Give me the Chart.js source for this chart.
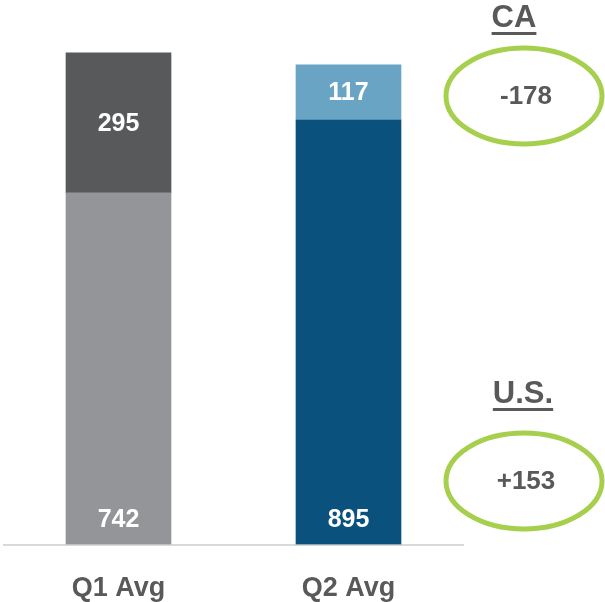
<!DOCTYPE html>
<html>
<head>
<meta charset="utf-8">
<script src="https://cdn.jsdelivr.net/npm/chart.js@4.4.1/dist/chart.umd.min.js"></script>
<style>
  html, body { margin: 0; padding: 0; background: #fff; }
  #wrap { width: 605px; height: 602px; position: relative; }
</style>
</head>
<body>
<div id="wrap"><canvas id="chartRegiones"></canvas></div>
<script>
// datos del grafico
const categorias = ['Q1 Avg', 'Q2 Avg'];
const valoresUS = [742, 895];   // segmento inferior
const valoresCA = [295, 117];   // segmento superior
const regiones = ['U.S.', 'CA'];

const coloresUS = ['#939598', '#0a527d'];
const coloresCA = ['#58595b', '#6aa4c5'];
const FUENTE = '"Liberation Sans", Arial, sans-serif';

function conSigno(n) {
    return (n > 0 ? '+' : '') + n;
}

// etiquetas de valor dentro de las barras
const etiquetasBarras = {
    id: 'etiquetasBarras',
    afterDatasetsDraw(chart) {
        const ctx = chart.ctx;
        ctx.save();
        ctx.fillStyle = '#ffffff';
        ctx.font = 'bold 25px ' + FUENTE;
        ctx.textAlign = 'center';
        ctx.textBaseline = 'middle';
        chart.data.datasets.forEach((ds, i) => {
            const meta = chart.getDatasetMeta(i);
            meta.data.forEach((bar, j) => {
                const valor = ds.data[j];
                let y;
                if (i === 0) {
                    y = bar.base - 24;
                } else {
                    y = (bar.y + bar.base) / 2 + 1;
                }
                ctx.fillText(valor, bar.x, y);
            });
        });
        ctx.restore();
    }
};

// anotaciones de variacion a la derecha
const anotaciones = {
    id: 'anotaciones',
    afterDraw(chart) {
        const ctx = chart.ctx;
        const cambioCA = valoresCA[1] - valoresCA[0];
        const cambioUS = valoresUS[1] - valoresUS[0];
        const items = [
            { titulo: regiones[1], valor: conSigno(cambioCA), xTitulo: 514, yTitulo: 18, yElipse: 96 },
            { titulo: regiones[0], valor: conSigno(cambioUS), xTitulo: 523, yTitulo: 394, yElipse: 481 }
        ];
        const cx = 524;
        ctx.save();
        items.forEach(it => {
            ctx.fillStyle = '#595959';
            ctx.font = 'bold 31px ' + FUENTE;
            ctx.textAlign = 'center';
            ctx.textBaseline = 'middle';
            ctx.fillText(it.titulo, it.xTitulo, it.yTitulo);
            const ancho = ctx.measureText(it.titulo).width;
            ctx.fillRect(it.xTitulo - ancho / 2, it.yTitulo + 14, ancho, 3);

            ctx.beginPath();
            ctx.ellipse(cx, it.yElipse, 78, 48, 0, 0, Math.PI * 2);
            ctx.strokeStyle = '#a5cf4c';
            ctx.lineWidth = 5;
            ctx.stroke();

            ctx.font = 'bold 26px ' + FUENTE;
            ctx.fillText(it.valor, cx + 2, it.yElipse + 1);
        });
        ctx.restore();
    }
};

const chartRegiones = new Chart(document.getElementById('chartRegiones'), {
    type: 'bar',
    data: {
        labels: categorias,
        datasets: [
            {
                label: regiones[0],
                data: valoresUS,
                backgroundColor: coloresUS,
                borderWidth: 0
            },
            {
                label: regiones[1],
                data: valoresCA,
                backgroundColor: coloresCA,
                borderWidth: 0
            }
        ]
    },
    options: {
        responsive: true,
        maintainAspectRatio: false,
        animation: false,
        layout: {
            padding: { top: 23, left: 3.5, right: 141.5, bottom: 0 }
        },
        datasets: {
            bar: { barThickness: 105 }
        },
        plugins: {
            legend: { display: false },
            tooltip: { enabled: false }
        },
        scales: {
            x: {
                stacked: true,
                grid: { display: false, drawTicks: false },
                border: { display: true, color: '#d9d9d9', width: 2 },
                ticks: {
                    color: '#595959',
                    padding: 28,
                    font: { family: FUENTE, size: 27, weight: 'bold' }
                },
                afterFit(scale) { scale.height = 57.5; }
            },
            y: {
                stacked: true,
                display: false,
                min: 0,
                max: 1100
            }
        }
    },
    plugins: [etiquetasBarras, anotaciones]
});
</script>
</body>
</html>
